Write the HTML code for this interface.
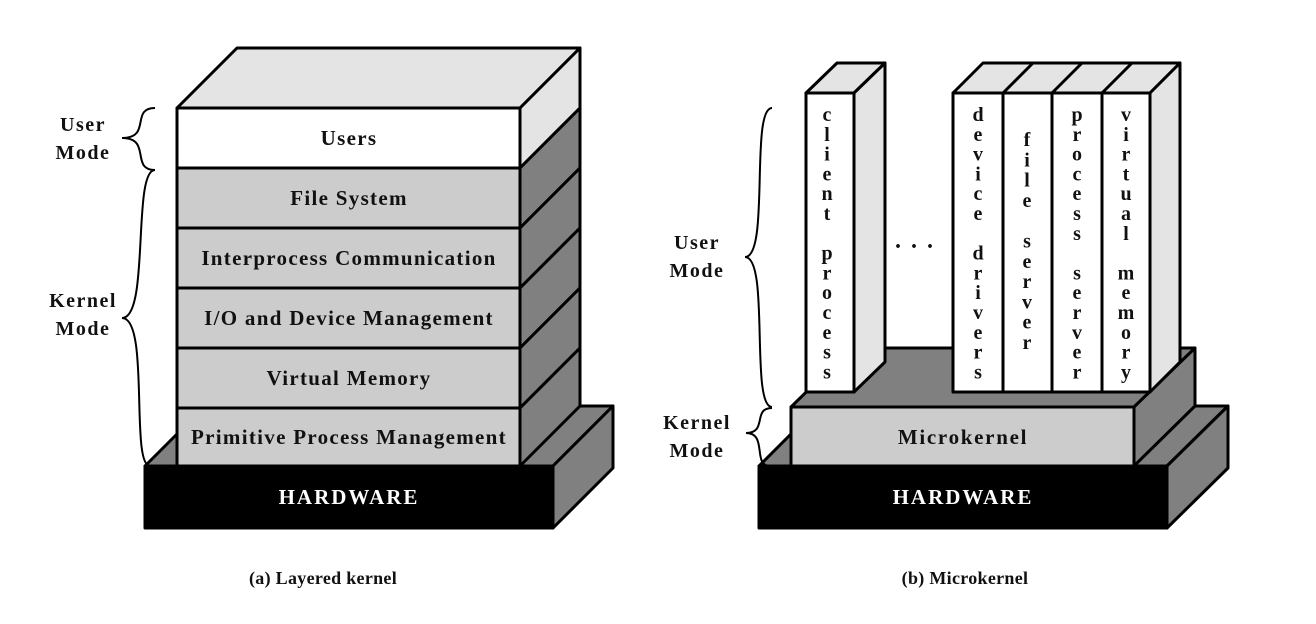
<!DOCTYPE html>
<html><head><meta charset="utf-8"><style>
html,body{margin:0;padding:0;background:#fff}
svg{display:block}
text{font-family:"Liberation Serif",serif;font-weight:bold;fill:#111}
</style></head><body>
<svg width="1316" height="624" viewBox="0 0 1316 624" xmlns="http://www.w3.org/2000/svg">
<g stroke="#000" stroke-width="3" stroke-linejoin="round">
<polygon points="145,466 205,406 613,406 553,466" fill="#808080"/>
<polygon points="553,466 613,406 613,468 553,528" fill="#808080"/>
<rect x="145" y="466" width="408" height="62" fill="#000"/>
<polygon points="177,108 237,48 580,48 520,108" fill="#e4e4e4"/>
<polygon points="520,108 580,48 580,108 520,168" fill="#e4e4e4"/>
<polygon points="520,168 580,108 580,168 520,228" fill="#808080"/>
<polygon points="520,228 580,168 580,228 520,288" fill="#808080"/>
<polygon points="520,288 580,228 580,288 520,348" fill="#808080"/>
<polygon points="520,348 580,288 580,348 520,408" fill="#808080"/>
<polygon points="520,408 580,348 580,406 520,466" fill="#808080"/>
<rect x="177" y="108" width="343" height="60" fill="#fff"/>
<rect x="177" y="168" width="343" height="60" fill="#cccccc"/>
<rect x="177" y="228" width="343" height="60" fill="#cccccc"/>
<rect x="177" y="288" width="343" height="60" fill="#cccccc"/>
<rect x="177" y="348" width="343" height="60" fill="#cccccc"/>
<rect x="177" y="408" width="343" height="58" fill="#cccccc"/>

<polygon points="759,466 819,406 1228,406 1167,466" fill="#808080"/>
<polygon points="1167,466 1228,406 1228,468 1167,528" fill="#808080"/>
<rect x="759" y="466" width="408" height="62" fill="#000"/>
<polygon points="791,407 851,348 1195,348 1134,407" fill="#808080"/>
<polygon points="1134,407 1195,348 1195,406 1134,466" fill="#808080"/>
<rect x="791" y="407" width="343" height="59" fill="#cccccc"/>
<polygon points="806,93 837,63 885,63 854,93" fill="#e4e4e4"/>
<polygon points="854,93 885,63 885,362 854,392" fill="#e4e4e4"/>
<rect x="806" y="93" width="48" height="299" fill="#fff"/>
<polygon points="953,93 983,63 1180,63 1150,93" fill="#e4e4e4"/>
<line x1="1003" y1="93" x2="1033" y2="63"/>
<line x1="1052" y1="93" x2="1082" y2="63"/>
<line x1="1102" y1="93" x2="1132" y2="63"/>
<polygon points="1150,93 1180,63 1180,362 1150,392" fill="#e4e4e4"/>
<rect x="953" y="93" width="50" height="299" fill="#fff"/>
<rect x="1003" y="93" width="49" height="299" fill="#fff"/>
<rect x="1052" y="93" width="50" height="299" fill="#fff"/>
<rect x="1102" y="93" width="48" height="299" fill="#fff"/>
</g>
<g fill="none" stroke="#000" stroke-width="2">
<path d="M155,108 C130,108 152,138 122,138 C152,138 130,170 155,170"/>
<path d="M155,170 C132,170 150,318 122,318 C150,318 130,466 150,466"/>
<path d="M772,108 C750,108 770,257 745,257 C770,257 750,407 772,407"/>
<path d="M772,408 C752,408 768,433 746,433 C768,433 752,466 770,466"/>
</g>
<g font-size="20" text-anchor="middle" letter-spacing="1.5">
<text x="83" y="131">User</text><text x="83" y="159">Mode</text>
<text x="83" y="307">Kernel</text><text x="83" y="335">Mode</text>
<text x="697" y="249">User</text><text x="697" y="277">Mode</text>
<text x="697" y="429">Kernel</text><text x="697" y="457">Mode</text>
</g>
<g font-size="21" text-anchor="middle" letter-spacing="1.3">
<text x="349" y="145">Users</text>
<text x="349" y="205">File System</text>
<text x="349" y="265">Interprocess Communication</text>
<text x="349" y="325">I/O and Device Management</text>
<text x="349" y="385">Virtual Memory</text>
<text x="349" y="444">Primitive Process Management</text>
<text x="963" y="444" letter-spacing="1.7">Microkernel</text>
<text x="349" y="504" letter-spacing="2" style="fill:#fff">HARDWARE</text>
<text x="963" y="504" letter-spacing="2" style="fill:#fff">HARDWARE</text>
</g>
<g font-size="18" text-anchor="middle" letter-spacing="0.3">
<text x="323" y="584">(a) Layered kernel</text>
<text x="965" y="584">(b) Microkernel</text>
</g>
<text x="915" y="248" font-size="24" text-anchor="middle" letter-spacing="2">. . .</text>
<g font-size="20" text-anchor="middle">
<text x="827"><tspan x="827" y="121">c</tspan><tspan x="827" dy="19.8">l</tspan><tspan x="827" dy="19.8">i</tspan><tspan x="827" dy="19.8">e</tspan><tspan x="827" dy="19.8">n</tspan><tspan x="827" dy="19.8">t</tspan><tspan x="827" dy="39.6">p</tspan><tspan x="827" dy="19.8">r</tspan><tspan x="827" dy="19.8">o</tspan><tspan x="827" dy="19.8">c</tspan><tspan x="827" dy="19.8">e</tspan><tspan x="827" dy="19.8">s</tspan><tspan x="827" dy="19.8">s</tspan></text>
<text x="978"><tspan x="978" y="121">d</tspan><tspan x="978" dy="19.8">e</tspan><tspan x="978" dy="19.8">v</tspan><tspan x="978" dy="19.8">i</tspan><tspan x="978" dy="19.8">c</tspan><tspan x="978" dy="19.8">e</tspan><tspan x="978" dy="39.6">d</tspan><tspan x="978" dy="19.8">r</tspan><tspan x="978" dy="19.8">i</tspan><tspan x="978" dy="19.8">v</tspan><tspan x="978" dy="19.8">e</tspan><tspan x="978" dy="19.8">r</tspan><tspan x="978" dy="19.8">s</tspan></text>
<text x="1027"><tspan x="1027" y="146">f</tspan><tspan x="1027" dy="20.3">i</tspan><tspan x="1027" dy="20.3">l</tspan><tspan x="1027" dy="20.3">e</tspan><tspan x="1027" dy="40.6">s</tspan><tspan x="1027" dy="20.3">e</tspan><tspan x="1027" dy="20.3">r</tspan><tspan x="1027" dy="20.3">v</tspan><tspan x="1027" dy="20.3">e</tspan><tspan x="1027" dy="20.3">r</tspan></text>
<text x="1077"><tspan x="1077" y="121">p</tspan><tspan x="1077" dy="19.8">r</tspan><tspan x="1077" dy="19.8">o</tspan><tspan x="1077" dy="19.8">c</tspan><tspan x="1077" dy="19.8">e</tspan><tspan x="1077" dy="19.8">s</tspan><tspan x="1077" dy="19.8">s</tspan><tspan x="1077" dy="39.6">s</tspan><tspan x="1077" dy="19.8">e</tspan><tspan x="1077" dy="19.8">r</tspan><tspan x="1077" dy="19.8">v</tspan><tspan x="1077" dy="19.8">e</tspan><tspan x="1077" dy="19.8">r</tspan></text>
<text x="1126"><tspan x="1126" y="121">v</tspan><tspan x="1126" dy="19.8">i</tspan><tspan x="1126" dy="19.8">r</tspan><tspan x="1126" dy="19.8">t</tspan><tspan x="1126" dy="19.8">u</tspan><tspan x="1126" dy="19.8">a</tspan><tspan x="1126" dy="19.8">l</tspan><tspan x="1126" dy="39.6">m</tspan><tspan x="1126" dy="19.8">e</tspan><tspan x="1126" dy="19.8">m</tspan><tspan x="1126" dy="19.8">o</tspan><tspan x="1126" dy="19.8">r</tspan><tspan x="1126" dy="19.8">y</tspan></text>
</g>
</svg>
</body></html>
